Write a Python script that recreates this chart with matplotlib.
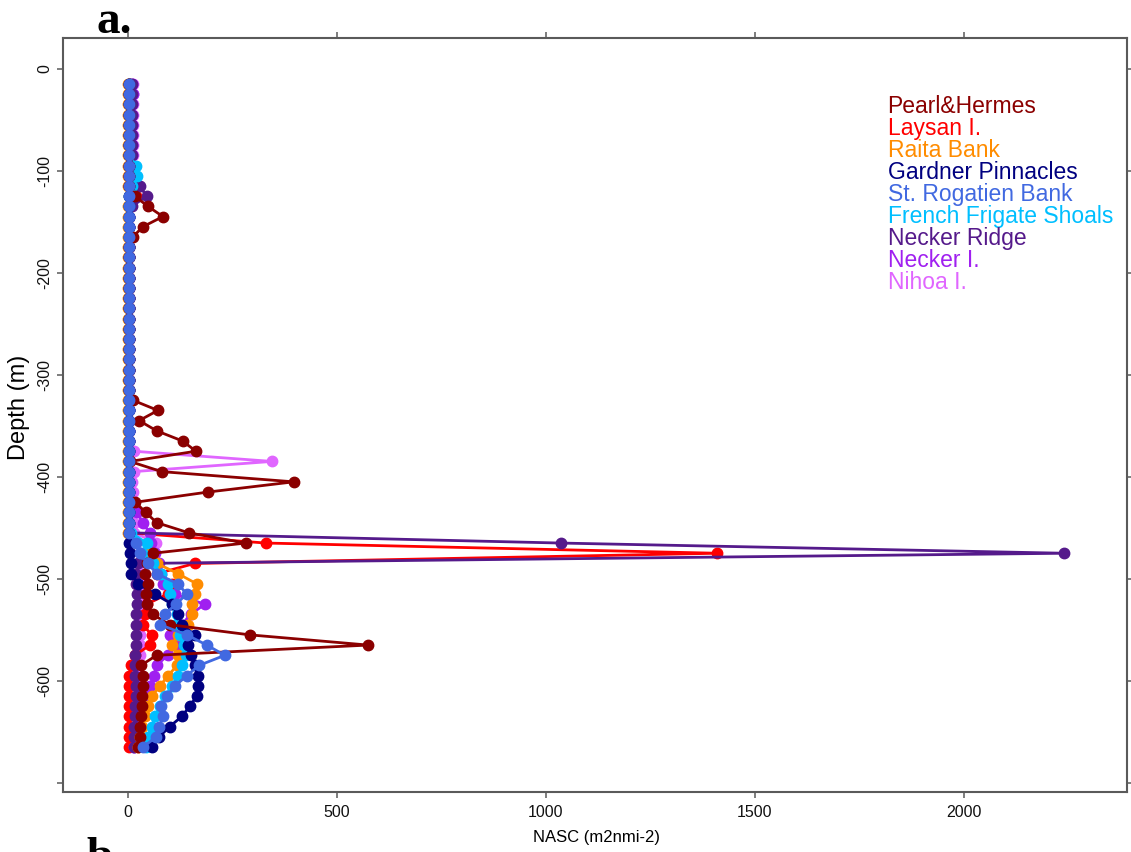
import numpy as np
import matplotlib
matplotlib.use("Agg")
import matplotlib.pyplot as plt

plt.rcParams['font.family'] = ['Liberation Sans', 'DejaVu Sans']

# depth bins (m), 10 m layers
depth = [-15, -25, -35, -45, -55, -65, -75, -85, -95, -105,
         -115, -125, -135, -145, -155, -165, -175, -185, -195, -205,
         -215, -225, -235, -245, -255, -265, -275, -285, -295, -305,
         -315, -325, -335, -345, -355, -365, -375, -385, -395, -405,
         -415, -425, -435, -445, -455, -465, -475, -485, -495, -505,
         -515, -525, -535, -545, -555, -565, -575, -585, -595, -605,
         -615, -625, -635, -645, -655, -665]

# NASC per site, same order as depth
pearl = [2, 2, 2, 2, 2, 2, 2, 2, 2, 2,
         3, 17, 48, 84, 36, 12, 3, 2, 2, 2,
         2, 2, 2, 2, 2, 2, 2, 2, 2, 2,
         3, 12, 72, 27, 69, 131, 163, 5, 81, 397,
         192, 18, 43, 69, 146, 282, 60, 47, 41, 48,
         43, 45, 60, 100, 292, 575, 69, 31, 36, 36,
         35, 34, 32, 30, 28, 25]
laysan = [3, 3, 3, 3, 3, 3, 3, 3, 3, 3,
          5, 20, 4, 3, 3, 3, 3, 3, 3, 3,
          3, 3, 3, 3, 3, 3, 3, 3, 3, 3,
          3, 3, 3, 3, 3, 3, 3, 3, 3, 3,
          3, 3, 3, 4, 6, 330, 1410, 160, 70, 105,
          95, 45, 40, 36, 57, 53, 17, 8, 3, 2,
          2, 2, 2, 2, 2, 2]
raita = [0, 0, 0, 0, 0, 0, 0, 0, 0, 0,
         1, 2, 1, 0, 1, 0, 0, 0, 0, 0,
         0, 0, 0, 0, 0, 0, 0, 0, 0, 0,
         0, 0, 0, 0, 0, 0, 0, 0, 0, 0,
         0, 0, 0, 0, 1, 5, 45, 70, 120, 165,
         160, 153, 153, 144, 120, 105, 120, 118, 96, 77,
         57, 48, 41, 33, 29, 24]
gardner = [2, 2, 2, 2, 2, 2, 2, 2, 2, 2,
           2, 2, 2, 2, 2, 2, 2, 2, 2, 2,
           2, 2, 2, 2, 2, 2, 2, 2, 2, 2,
           2, 2, 2, 2, 2, 2, 2, 2, 2, 2,
           2, 2, 2, 2, 2, 3, 5, 8, 8, 25,
           65, 106, 120, 130, 160, 144, 150, 160, 167, 167,
           165, 148, 129, 100, 75, 57]
rogatien = [4, 4, 4, 4, 4, 4, 4, 4, 4, 4,
            4, 4, 4, 4, 4, 4, 4, 4, 4, 4,
            4, 4, 4, 4, 4, 4, 4, 4, 4, 4,
            4, 4, 4, 4, 4, 4, 4, 4, 4, 4,
            4, 4, 4, 4, 3, 20, 28, 48, 69, 120,
            141, 115, 88, 77, 141, 189, 232, 170, 141, 113,
            93, 80, 84, 75, 68, 36]
french = [3, 3, 3, 3, 3, 3, 3, 3, 20, 22,
          10, 3, 3, 3, 3, 3, 3, 3, 3, 3,
          3, 3, 3, 3, 3, 3, 3, 3, 3, 3,
          3, 3, 3, 3, 3, 3, 3, 3, 3, 3,
          3, 3, 3, 3, 8, 45, 35, 60, 80, 95,
          100, 105, 117, 112, 125, 135, 140, 130, 120, 105,
          90, 77, 65, 57, 48, 44]
necker_ridge = [9, 10, 9, 9, 9, 9, 9, 9, 9, 12,
                28, 45, 10, 4, 3, 3, 3, 3, 3, 3,
                3, 3, 3, 3, 3, 3, 3, 3, 3, 3,
                3, 3, 3, 3, 3, 3, 3, 3, 3, 3,
                3, 3, 3, 3, 5, 1035, 2240, 25, 20, 20,
                22, 22, 20, 20, 20, 20, 18, 18, 18, 20,
                20, 18, 18, 16, 16, 14]
necker_i = [10, 12, 10, 10, 10, 10, 10, 10, 10, 10,
            10, 8, 5, 3, 3, 3, 3, 3, 3, 3,
            3, 3, 3, 3, 3, 3, 3, 3, 3, 3,
            3, 3, 3, 3, 3, 3, 3, 3, 3, 3,
            3, 3, 22, 36, 52, 55, 65, 75, 80, 85,
            112, 184, 150, 129, 100, 120, 95, 69, 62, 53,
            45, 40, 35, 30, 25, 15]
nihoa = [12, 13, 12, 12, 12, 12, 12, 12, 12, 12,
         11, 8, 4, 3, 3, 3, 3, 3, 3, 3,
         3, 3, 3, 3, 3, 3, 3, 3, 3, 3,
         3, 3, 3, 3, 3, 3, 14, 345, 14, 10,
         12, 13, 14, 15, 16, 68, 30, 28, 28, 28,
         28, 28, 28, 28, 28, 28, 28, 26, 26, 26,
         24, 24, 22, 20, 16, 12]

sites = ["Pearl&Hermes", "Laysan I.", "Raita Bank", "Gardner Pinnacles",
         "St. Rogatien Bank", "French Frigate Shoals", "Necker Ridge",
         "Necker I.", "Nihoa I."]
colors = ["#8B0000", "#FF0000", "#FF8C00", "#000080", "#4169E1",
          "#00BFFF", "#551A8B", "#A020F0", "#E066FF"]
values = [pearl, laysan, raita, gardner, rogatien, french,
          necker_ridge, necker_i, nihoa]

xticks = [0, 500, 1000, 1500, 2000]
yticks = [0, -100, -200, -300, -400, -500, -600, -700]
ylabels = ["0", "-100", "-200", "-300", "-400", "-500", "-600", ""]

fig = plt.figure(figsize=(11.31, 8.52), dpi=100)
ax = fig.add_axes([63 / 1131, 60 / 852, 1064 / 1131, 754 / 852])

# drawing order (St. Rogatien ends up on top of the shallow column)
order = [8, 1, 7, 6, 2, 5, 3, 0, 4]
for k, i in enumerate(order):
    ax.plot(values[i], depth, '-o', color=colors[i], lw=2.0, ms=7.5,
            zorder=2 + k)

ax.set_xlim(-155, 2390)
ax.set_ylim(-709, 30)
ax.set_xticks(xticks)
ax.set_xticklabels([str(t) for t in xticks])
ax.set_yticks(yticks)
ax.set_yticklabels(ylabels, rotation=90, va='center')

for s in ax.spines.values():
    s.set_color('#5a5a5a')
    s.set_linewidth(1.5)
ax.tick_params(direction='out', length=4.5, width=1.1, color='#5a5a5a',
               labelsize=11.5, labelcolor='#111111', top=True, right=True,
               labeltop=False, labelright=False)
ax.tick_params(axis='x', pad=5)
ax.tick_params(axis='y', pad=3)

ax.set_ylabel("Depth (m)", fontsize=17)
ax.yaxis.set_label_coords(-0.031, 0.51)
ax.set_xlabel("NASC (m2nmi-2)", fontsize=12)
ax.xaxis.set_label_coords(0.501, -0.050)

# text-only legend in site colours
for j, (name, c) in enumerate(zip(sites, colors)):
    ax.text(0.775, 0.9098 - j * 0.0292, name, color=c, fontsize=16.5,
            va='center', ha='left', transform=ax.transAxes)

fig.text(96 / 1131, (852 - 33) / 852, "a.", family='Liberation Serif',
         weight='bold', fontsize=34, va='baseline')
fig.text(86 / 1131, (852 - 869) / 852, "b.", family='Liberation Serif',
         weight='bold', fontsize=34, va='baseline')

fig.savefig("out.png", dpi=100)
